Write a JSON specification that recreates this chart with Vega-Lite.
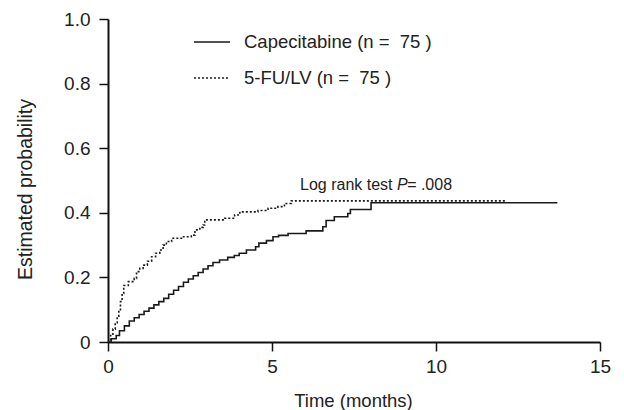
{
  "$schema": "https://vega.github.io/schema/vega-lite/v6.json",
  "autosize": {"type": "none"},
  "width": 492,
  "height": 323,
  "padding": {"left": 108, "top": 19, "right": 24, "bottom": 68},
  "background": "white",
  "config": {
    "view": {"stroke": null},
    "font": "Liberation Sans",
    "axis": {"grid": false, "domainColor": "#111", "tickColor": "#111", "labelColor": "#222", "titleColor": "#222", "labelFont": "Liberation Sans", "titleFont": "Liberation Sans", "titleFontWeight": "normal"}
  },
  "datasets": {
    "km": [
      {"series": "Capecitabine", "t": 0, "p": 0},
      {"series": "Capecitabine", "t": 0.1, "p": 0.01},
      {"series": "Capecitabine", "t": 0.25, "p": 0.02},
      {"series": "Capecitabine", "t": 0.35, "p": 0.035},
      {"series": "Capecitabine", "t": 0.5, "p": 0.05},
      {"series": "Capecitabine", "t": 0.65, "p": 0.065},
      {"series": "Capecitabine", "t": 0.8, "p": 0.075},
      {"series": "Capecitabine", "t": 0.95, "p": 0.085},
      {"series": "Capecitabine", "t": 1.1, "p": 0.095},
      {"series": "Capecitabine", "t": 1.25, "p": 0.105},
      {"series": "Capecitabine", "t": 1.4, "p": 0.115},
      {"series": "Capecitabine", "t": 1.55, "p": 0.125},
      {"series": "Capecitabine", "t": 1.7, "p": 0.135},
      {"series": "Capecitabine", "t": 1.85, "p": 0.148},
      {"series": "Capecitabine", "t": 2.0, "p": 0.16},
      {"series": "Capecitabine", "t": 2.15, "p": 0.172},
      {"series": "Capecitabine", "t": 2.3, "p": 0.185},
      {"series": "Capecitabine", "t": 2.45, "p": 0.195},
      {"series": "Capecitabine", "t": 2.6, "p": 0.205},
      {"series": "Capecitabine", "t": 2.75, "p": 0.215},
      {"series": "Capecitabine", "t": 2.9, "p": 0.226},
      {"series": "Capecitabine", "t": 3.05, "p": 0.236},
      {"series": "Capecitabine", "t": 3.2, "p": 0.246},
      {"series": "Capecitabine", "t": 3.4, "p": 0.254},
      {"series": "Capecitabine", "t": 3.65, "p": 0.262},
      {"series": "Capecitabine", "t": 3.85, "p": 0.268},
      {"series": "Capecitabine", "t": 4.0, "p": 0.275},
      {"series": "Capecitabine", "t": 4.22, "p": 0.285},
      {"series": "Capecitabine", "t": 4.5, "p": 0.295},
      {"series": "Capecitabine", "t": 4.6, "p": 0.306},
      {"series": "Capecitabine", "t": 4.83, "p": 0.314},
      {"series": "Capecitabine", "t": 5.03, "p": 0.326},
      {"series": "Capecitabine", "t": 5.2, "p": 0.33},
      {"series": "Capecitabine", "t": 5.49, "p": 0.336},
      {"series": "Capecitabine", "t": 6.04, "p": 0.344},
      {"series": "Capecitabine", "t": 6.55, "p": 0.357},
      {"series": "Capecitabine", "t": 6.65, "p": 0.376},
      {"series": "Capecitabine", "t": 6.9, "p": 0.388},
      {"series": "Capecitabine", "t": 7.31, "p": 0.398},
      {"series": "Capecitabine", "t": 7.39, "p": 0.41},
      {"series": "Capecitabine", "t": 8.02, "p": 0.431},
      {"series": "Capecitabine", "t": 13.7, "p": 0.431},
      {"series": "5-FU/LV", "t": 0, "p": 0},
      {"series": "5-FU/LV", "t": 0.08, "p": 0.02},
      {"series": "5-FU/LV", "t": 0.15, "p": 0.04},
      {"series": "5-FU/LV", "t": 0.22, "p": 0.06},
      {"series": "5-FU/LV", "t": 0.28, "p": 0.08},
      {"series": "5-FU/LV", "t": 0.33, "p": 0.1},
      {"series": "5-FU/LV", "t": 0.38, "p": 0.125},
      {"series": "5-FU/LV", "t": 0.43, "p": 0.15},
      {"series": "5-FU/LV", "t": 0.48, "p": 0.175},
      {"series": "5-FU/LV", "t": 0.62, "p": 0.187},
      {"series": "5-FU/LV", "t": 0.8, "p": 0.197},
      {"series": "5-FU/LV", "t": 0.87, "p": 0.218},
      {"series": "5-FU/LV", "t": 0.97, "p": 0.228},
      {"series": "5-FU/LV", "t": 1.07, "p": 0.238},
      {"series": "5-FU/LV", "t": 1.2, "p": 0.25},
      {"series": "5-FU/LV", "t": 1.33, "p": 0.264},
      {"series": "5-FU/LV", "t": 1.45, "p": 0.275},
      {"series": "5-FU/LV", "t": 1.58, "p": 0.285},
      {"series": "5-FU/LV", "t": 1.68, "p": 0.3},
      {"series": "5-FU/LV", "t": 1.78, "p": 0.311},
      {"series": "5-FU/LV", "t": 1.94, "p": 0.321},
      {"series": "5-FU/LV", "t": 2.24, "p": 0.326},
      {"series": "5-FU/LV", "t": 2.54, "p": 0.331},
      {"series": "5-FU/LV", "t": 2.65, "p": 0.347},
      {"series": "5-FU/LV", "t": 2.8, "p": 0.355},
      {"series": "5-FU/LV", "t": 2.9, "p": 0.362},
      {"series": "5-FU/LV", "t": 2.95, "p": 0.378},
      {"series": "5-FU/LV", "t": 3.56, "p": 0.383},
      {"series": "5-FU/LV", "t": 3.86, "p": 0.393},
      {"series": "5-FU/LV", "t": 4.02, "p": 0.403},
      {"series": "5-FU/LV", "t": 4.57, "p": 0.407},
      {"series": "5-FU/LV", "t": 4.88, "p": 0.414},
      {"series": "5-FU/LV", "t": 5.18, "p": 0.419},
      {"series": "5-FU/LV", "t": 5.38, "p": 0.429},
      {"series": "5-FU/LV", "t": 5.59, "p": 0.437},
      {"series": "5-FU/LV", "t": 12.1, "p": 0.437}
    ]
  },
  "layer": [
    {
      "data": {"name": "km"},
      "mark": {"type": "line", "interpolate": "step-after", "color": "#1a1a1a", "strokeWidth": 1.6},
      "encoding": {
        "x": {"field": "t", "type": "quantitative", "scale": {"domain": [0, 15], "nice": false},
          "axis": {"values": [0, 5, 10, 15], "title": "Time (months)", "titleFontSize": 18.5, "labelFontSize": 19, "tickSize": 9, "tickWidth": 1.5, "domainWidth": 2, "labelPadding": 6, "titleX": 245, "titleY": 58, "titleBaseline": "middle", "labelFlush": false}},
        "y": {"field": "p", "type": "quantitative", "scale": {"domain": [0, 1], "nice": false},
          "axis": {"values": [0, 0.2, 0.4, 0.6, 0.8, 1.0], "labelExpr": "datum.value == 0 ? '0' : format(datum.value, '.1f')", "title": "Estimated probability", "titleFontSize": 19.5, "labelFontSize": 19, "tickSize": 9, "tickWidth": 1.5, "domainWidth": 2, "labelPadding": 9, "titleX": -83, "titleY": 170, "titleAngle": -90, "titleBaseline": "middle", "labelFlush": false}},
        "strokeDash": {"field": "series", "type": "nominal",
          "scale": {"domain": ["Capecitabine", "5-FU/LV"], "range": [[1, 0], [2, 2]]},
          "legend": {"orient": "none", "legendX": 85, "legendY": 4, "title": null,
            "labelExpr": "datum.value + ' (n =\u00a0\u00a075\u00a0)'",
            "symbolType": "stroke", "symbolSize": 1300, "symbolStrokeColor": "#1a1a1a", "symbolStrokeWidth": 1.3,
            "labelFontSize": 18.5, "labelFont": "Liberation Sans", "labelColor": "#222", "labelOffset": 13, "labelLimit": 400, "rowPadding": 7}}
      }
    },
    {
      "data": {"values": [{}]},
      "mark": {"type": "text", "align": "left", "baseline": "middle", "fontSize": 16, "color": "#222"},
      "encoding": {"x": {"datum": 5.854}, "y": {"datum": 0.486}, "text": {"value": "Log rank test"}}
    },
    {
      "data": {"values": [{}]},
      "mark": {"type": "text", "align": "left", "baseline": "middle", "fontSize": 16, "fontStyle": "italic", "color": "#222"},
      "encoding": {"x": {"datum": 8.81}, "y": {"datum": 0.486}, "text": {"value": "P"}}
    },
    {
      "data": {"values": [{}]},
      "mark": {"type": "text", "align": "left", "baseline": "middle", "fontSize": 16, "color": "#222"},
      "encoding": {"x": {"datum": 9.12}, "y": {"datum": 0.486}, "text": {"value": "= .008"}}
    }
  ]
}
